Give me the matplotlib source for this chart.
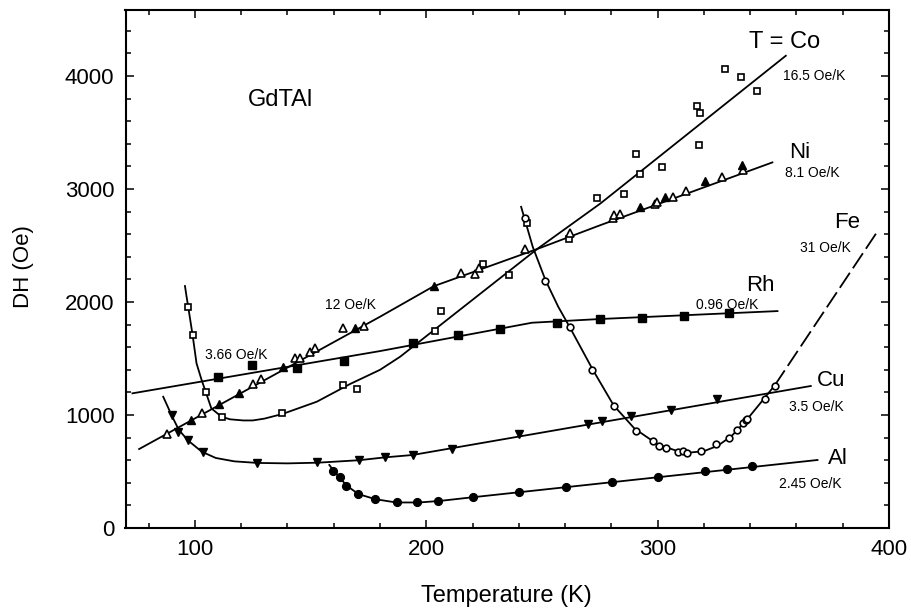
import matplotlib
matplotlib.use("Agg")
import matplotlib.pyplot as plt
from matplotlib.ticker import MultipleLocator

plt.rcParams['font.family'] = ['Liberation Sans', 'DejaVu Sans']

# ---------------- data ----------------
# T = Co (open squares)
co_T = [97.1, 99.3, 104.8, 111.5, 137.5, 164.2, 170.0, 203.6, 206.5, 224.5, 235.9,
        243.6, 261.9, 273.9, 285.4, 290.8, 292.2, 302.0, 317.9, 317.2, 318.3, 329.0,
        336.2, 343.0]
co_H = [1958, 1708, 1206, 985, 1015, 1265, 1230, 1746, 1923, 2336, 2239,
        2702, 2560, 2918, 2956, 3307, 3136, 3198, 3387, 3737, 3675, 4062,
        3988, 3870]
co_fit_T = [95.7, 96.4, 97.1, 99.0, 100.7, 102.9, 104.8, 107.1, 111.5, 115.2, 120.9,
            125.0, 130.0, 137.8, 152.7, 167.1, 180.0, 188.7, 247.9, 275.3, 355.4]
co_fit_H = [2142, 2047, 1958, 1708, 1457, 1310, 1197, 1059, 985, 962, 952,
            952, 968, 1009, 1118, 1275, 1400, 1516, 2469, 2873, 4180]

# Ni (triangles, open and filled)
ni_open_T = [88.0, 102.9, 125.1, 128.6, 143.3, 145.5, 149.8, 152.0, 164.2, 172.9,
             214.9, 221.2, 222.6, 242.6, 262.3, 280.6, 281.1, 283.7, 298.7, 299.6,
             306.6, 312.4, 327.7, 337.1]
ni_open_H = [829, 1015, 1274, 1316, 1507, 1507, 1560, 1596, 1767, 1790,
             2254, 2248, 2304, 2466, 2608, 2741, 2770, 2776, 2867, 2888,
             2926, 2982, 3109, 3168]
ni_fill_T = [98.3, 110.4, 119.0, 138.2, 169.3, 203.2, 292.2, 303.2, 320.3, 336.4]
ni_fill_H = [956, 1097, 1192, 1428, 1767, 2142, 2843, 2926, 3071, 3212]
ni_fit_T = [75.9, 180.0, 203.2, 247.9, 275.3, 349.6]
ni_fit_H = [699, 1870, 2140, 2469, 2681, 3236]

# Rh (filled squares)
rh_T = [109.8, 124.8, 144.3, 164.6, 194.1, 213.7, 232.0, 256.6, 274.9, 293.4, 311.4, 330.9]
rh_H = [1333, 1442, 1419, 1478, 1634, 1708, 1761, 1811, 1847, 1861, 1876, 1900]
rh_fit_T = [73.0, 180.0, 245.7, 275.3, 351.8]
rh_fit_H = [1192, 1566, 1817, 1850, 1920]

# Fe (open circles)
fe_T = [242.6, 251.5, 262.0, 271.7, 281.1, 290.5, 298.0, 300.5, 303.7, 308.7, 310.9,
        312.8, 318.6, 325.4, 330.9, 334.2, 336.7, 338.1, 338.8, 346.3, 350.6]
fe_H = [2741, 2189, 1776, 1398, 1083, 861, 770, 728, 705, 675, 681,
        661, 681, 743, 797, 864, 926, 953, 962, 1142, 1259]
fe_fit_T = [241.0, 246.0, 251.5, 257.0, 262.0, 272.0, 281.0, 290.0, 300.0, 308.0,
            314.0, 320.0, 326.0, 332.0, 338.0, 344.0, 350.6]
fe_fit_H = [2843, 2490, 2195, 1960, 1778, 1400, 1085, 880, 740, 685,
            668, 680, 728, 815, 945, 1095, 1262]
fe_ext_T = [350.6, 395.4]
fe_ext_H = [1262, 2637]

# Cu (filled down triangles)
cu_T = [90.3, 92.8, 97.1, 103.3, 126.7, 152.9, 171.1, 182.3, 194.2, 211.1, 240.0,
        269.8, 276.1, 288.3, 305.6, 325.5]
cu_H = [1000, 847, 779, 670, 578, 587, 602, 631, 646, 699, 832,
        923, 950, 991, 1047, 1145]
cu_fit_T = [86.3, 90.0, 93.0, 97.0, 103.0, 109.0, 117.0, 127.0, 140.0, 153.0,
            171.0, 182.0, 194.0, 366.2]
cu_fit_H = [1162, 995, 870, 775, 675, 620, 590, 576, 572, 578,
            600, 625, 646, 1257]

# Al (filled circles)
al_T = [159.9, 162.5, 165.4, 170.7, 177.9, 187.3, 196.2, 204.9, 220.0, 240.0,
        260.2, 280.1, 300.1, 320.3, 330.1, 340.6]
al_H = [507, 448, 375, 298, 257, 227, 233, 242, 272, 321,
        366, 410, 454, 504, 522, 551]
al_fit_T = [158.1, 160.0, 162.5, 165.4, 170.7, 178.0, 187.0, 197.0, 206.0, 220.0, 369.1]
al_fit_H = [558, 505, 450, 378, 300, 255, 226, 226, 240, 272, 602]

x_ticks = [100, 200, 300, 400]
y_ticks = [0, 1000, 2000, 3000, 4000]

# ---------------- figure ----------------
fig = plt.figure(figsize=(9.11, 6.09), dpi=100)
ax = fig.add_axes([125.5 / 911, 81 / 609, 763.5 / 911, 518 / 609])

lw = 1.3
kw_line = dict(color='black', lw=lw, zorder=2)
ax.plot(co_fit_T, co_fit_H, **kw_line)
ax.plot(ni_fit_T, ni_fit_H, **kw_line)
ax.plot(rh_fit_T, rh_fit_H, **kw_line)
ax.plot(fe_fit_T, fe_fit_H, **kw_line)
ax.plot(fe_ext_T, fe_ext_H, color='black', lw=lw, dashes=(10, 3), zorder=2)
ax.plot(cu_fit_T, cu_fit_H, **kw_line)
ax.plot(al_fit_T, al_fit_H, **kw_line)

ax.plot(co_T, co_H, ls='none', marker='s', ms=4.6, mfc='white', mec='black', mew=1.2, zorder=3)
ax.plot(ni_open_T, ni_open_H, ls='none', marker='^', ms=5.3, mfc='white', mec='black', mew=1.2, zorder=3)
ax.plot(ni_fill_T, ni_fill_H, ls='none', marker='^', ms=5.3, mfc='black', mec='black', zorder=3)
ax.plot(rh_T, rh_H, ls='none', marker='s', ms=5.3, mfc='black', mec='black', zorder=3)
ax.plot(fe_T, fe_H, ls='none', marker='o', ms=4.8, mfc='white', mec='black', mew=1.2, zorder=3)
ax.plot(cu_T, cu_H, ls='none', marker='v', ms=5.6, mfc='black', mec='black', zorder=3)
ax.plot(al_T, al_H, ls='none', marker='o', ms=5.6, mfc='black', mec='black', zorder=3)

ax.set_xlim(70, 400)
ax.set_ylim(0, 4585)
ax.set_xticks(x_ticks)
ax.set_yticks(y_ticks)
ax.xaxis.set_minor_locator(MultipleLocator(20))
ax.yaxis.set_minor_locator(MultipleLocator(200))
ax.tick_params(which='both', direction='in', top=True, right=True, width=1.1, color='black')
ax.tick_params(which='major', length=5.5, labelsize=16, pad=8)
ax.tick_params(which='minor', length=3.5)
for s in ax.spines.values():
    s.set_linewidth(1.5)

fig.text(506 / 911, 1 - 596 / 609, 'Temperature (K)', fontsize=17, ha='center', va='center')
fig.text(23 / 911, 1 - 267 / 609, 'DH (Oe)', fontsize=16, ha='center', va='center', rotation=90)

small = 10
ax.text(136.8, 3788, 'GdTAl', fontsize=17, ha='center', va='center')
ax.text(354.7, 4304, 'T = Co', fontsize=17, ha='center', va='center')
ax.text(367.7, 4000, '16.5 Oe/K', fontsize=small, ha='center', va='center')
ax.text(361.2, 3325, 'Ni', fontsize=16, ha='center', va='center')
ax.text(367.0, 3139, '8.1 Oe/K', fontsize=small, ha='center', va='center')
ax.text(382.1, 2702, 'Fe', fontsize=16, ha='center', va='center')
ax.text(372.7, 2475, '31 Oe/K', fontsize=small, ha='center', va='center')
ax.text(344.6, 2150, 'Rh', fontsize=16, ha='center', va='center')
ax.text(330.2, 1973, '0.96 Oe/K', fontsize=small, ha='center', va='center')
ax.text(374.9, 1310, 'Cu', fontsize=16, ha='center', va='center')
ax.text(368.4, 1073, '3.5 Oe/K', fontsize=small, ha='center', va='center')
ax.text(377.8, 617, 'Al', fontsize=16, ha='center', va='center')
ax.text(366.0, 389, '2.45 Oe/K', fontsize=small, ha='center', va='center')
ax.text(118.0, 1531, '3.66 Oe/K', fontsize=small, ha='center', va='center')
ax.text(167.1, 1973, '12 Oe/K', fontsize=small, ha='center', va='center')

fig.savefig('out.png', dpi=100)
